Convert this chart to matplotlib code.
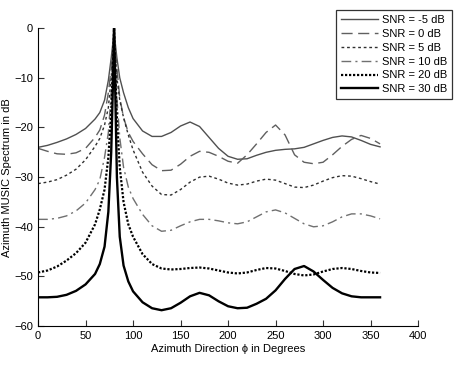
import matplotlib
matplotlib.use("Agg")
import matplotlib.pyplot as plt

plt.rcParams['font.family'] = ['Liberation Sans', 'DejaVu Sans']

# azimuth samples (degrees)
az = [0, 10, 20, 30, 40, 50, 60, 65, 70, 74, 77, 79, 80, 81, 83, 86, 90, 95,
      100, 110, 120, 130, 140, 150, 160, 170, 180, 190, 200, 210, 220, 230,
      240, 250, 260, 270, 280, 290, 300, 310, 320, 330, 340, 350, 360]

snr_m5 = [-24, -23.6, -23.0, -22.3, -21.4, -20.2, -18.3, -17.0, -14.5, -10.5, -6, -2.5, 0,
          -2.5, -6, -10, -13, -16, -18.2, -20.7, -21.8, -21.8, -21, -19.7, -18.9, -19.8,
          -22, -24.2, -25.8, -26.4, -26.3, -25.6, -25, -24.6, -24.4, -24.3, -24.0, -23.3,
          -22.6, -22, -21.7, -21.9, -22.6, -23.4, -23.9]
snr_0 = [-24.2, -24.8, -25.3, -25.4, -25.1, -24.2, -22, -20.5, -17.5, -13, -8, -3.5, 0,
         -3.5, -8, -14, -18, -21, -22.8, -25.3, -27.5, -28.7, -28.6, -27.4, -25.8, -24.8,
         -25, -25.8, -26.8, -27.2, -25.5, -23.3, -21, -19.5, -21.5, -25.5, -27, -27.3,
         -27, -25.5, -23.8, -22.4, -21.6, -22.2, -23.3]
snr_5 = [-31.3, -31.0, -30.5, -29.6, -28.4, -26.5, -23.8, -22.2, -19.5, -16, -10, -4.5, 0,
         -4.5, -10, -14.5, -18, -21.5, -24.5, -29, -31.8, -33.5, -33.6, -32.5, -31, -30,
         -29.8, -30.4, -31.2, -31.6, -31.4, -30.8, -30.4, -30.6, -31.3, -32, -32.1, -31.6,
         -30.8, -30.1, -29.7, -29.8, -30.3, -30.9, -31.4]
snr_10 = [-38.5, -38.5, -38.3, -37.8, -36.8, -35.2, -32.5, -30.5, -26, -21, -13, -5.5, 0,
          -5.5, -14, -22, -28, -32, -34.3, -37.5, -39.8, -40.9, -40.7, -39.8, -39, -38.5,
          -38.5, -38.8, -39.2, -39.4, -39, -38, -37, -36.6, -37.2, -38.3, -39.4, -40,
          -39.8, -39, -38, -37.4, -37.4, -37.8, -38.4]
snr_20 = [-49.2, -48.8, -48, -46.8, -45.3, -43.2, -39.5, -36.5, -32.5, -26, -17, -7, 0,
          -7, -18, -28, -35, -39.5, -42, -45.5, -47.5, -48.4, -48.6, -48.5, -48.3, -48.2,
          -48.4, -48.8, -49.2, -49.4, -49.2, -48.7, -48.3, -48.4, -48.9, -49.5, -49.8,
          -49.6, -49.0, -48.5, -48.3, -48.5, -48.9, -49.2, -49.3]
snr_30 = [-54.2, -54.2, -54.1, -53.7, -52.9, -51.6, -49.5, -47.5, -44, -37, -25, -10, 0,
          -10, -30, -42, -47.8, -51, -53, -55.2, -56.4, -56.8, -56.4, -55.3, -54, -53.3,
          -53.8, -55, -56, -56.4, -56.3, -55.5, -54.5, -52.8, -50.5, -48.5, -47.9, -49,
          -50.7, -52.3, -53.4, -54, -54.2, -54.2, -54.2]

labels = ['SNR = -5 dB', 'SNR = 0 dB', 'SNR = 5 dB', 'SNR = 10 dB',
          'SNR = 20 dB', 'SNR = 30 dB']

fig = plt.figure(figsize=(4.64, 3.66), dpi=100)
ax = fig.add_axes([0.082, 0.109, 0.819, 0.814])

ax.plot(az, snr_m5, color='#505050', lw=1.0, ls='-', label=labels[0])
ax.plot(az, snr_0, color='#606060', lw=1.0, ls=(0, (8, 4)), label=labels[1])
ax.plot(az, snr_5, color='#303030', lw=1.0, ls=(0, (2, 2)), label=labels[2])
ax.plot(az, snr_10, color='#707070', lw=1.0, ls=(0, (7, 3, 1.5, 3)), label=labels[3])
ax.plot(az, snr_20, color='black', lw=1.6, ls=(0, (1, 0.8)), label=labels[4])
ax.plot(az, snr_30, color='black', lw=1.7, ls='-', label=labels[5])

ax.set_xlim(0, 400)
ax.set_ylim(-60, 0)
ax.set_xticks(range(0, 401, 50))
ax.set_yticks(range(-60, 1, 10))
ax.spines['top'].set_visible(False)
ax.spines['right'].set_visible(False)
ax.tick_params(direction='in', length=4, labelsize=8, color='#333333')
ax.set_xlabel('Azimuth Direction ϕ in Degrees', fontsize=8, labelpad=2)
ax.set_ylabel('Azimuth MUSIC Spectrum in dB', fontsize=8, labelpad=2)

leg = ax.legend(loc='upper right', bbox_to_anchor=(0.974, 0.973),
                bbox_transform=fig.transFigure, fontsize=8, handlelength=3.4,
                handletextpad=0.3, labelspacing=0.35, borderpad=0.45,
                borderaxespad=0, frameon=True, fancybox=False)
leg.get_frame().set_edgecolor('black')
leg.get_frame().set_linewidth(0.9)

fig.savefig('out.png', dpi=100)
